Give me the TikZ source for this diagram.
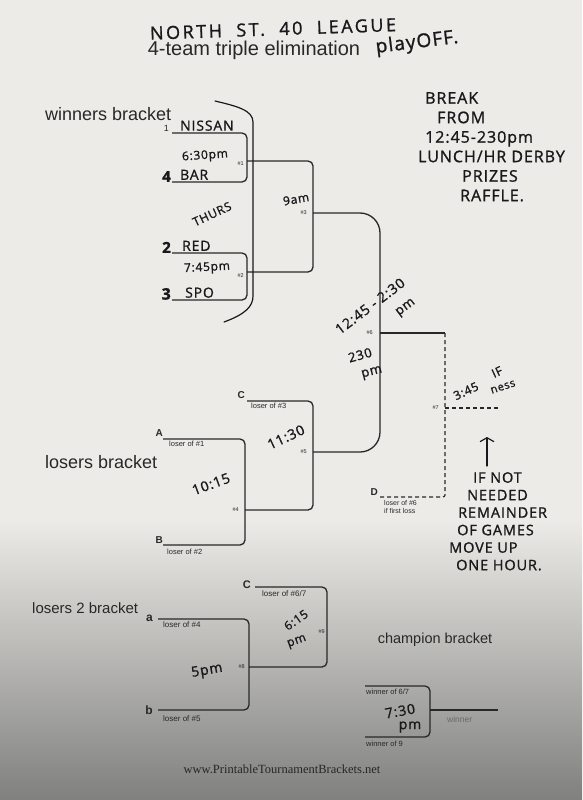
\documentclass[tikz,border=0pt]{standalone}
\usepackage{fontspec}
\setmainfont{Liberation Sans}
\newfontfamily\handfont[LetterSpace=6, FakeBold=1.2]{Open Sans}
\newfontfamily\webfont{Liberation Serif}
\usetikzlibrary{positioning, calc, arrows.meta}
\definecolor{paper}{RGB}{236,235,231}
\definecolor{papergray}{RGB}{128,128,126}
\definecolor{ink}{RGB}{40,40,40}
\definecolor{pen}{RGB}{25,25,28}

\begin{document}
\begin{tikzpicture}[x=1pt, y=-1pt,
    bline/.style={draw=ink, line width=1.3pt, rounded corners=5pt},
    dline/.style={draw=ink, line width=1.1pt, dash pattern=on 4pt off 3pt, rounded corners=2pt},
    brace/.style={draw=pen, line width=1.2pt, line cap=round},
    heading/.style={font=\fontsize{#1}{#1}\selectfont, text=ink, inner sep=0pt},
    heading/.default=18,
    seed/.style={font=\bfseries\fontsize{#1}{#1}\selectfont, text=ink, inner sep=0pt},
    seed/.default=10,
    lsmall/.style={font=\fontsize{#1}{8.5}\selectfont, text=ink, inner sep=0pt, align=left},
    lsmall/.default=7.5,
    gnum/.style={font=\fontsize{5.5}{6}\selectfont, text=ink, inner sep=0pt},
    hw/.style={font=\handfont\fontsize{#1}{#1}\selectfont, text=pen, inner sep=0pt},
    hw/.default=13,
    note/.style 2 args={font=\handfont\fontsize{#1}{#2}\selectfont, text=pen, inner sep=0pt, align=left}
]
\fill[paper] (0,0) rectangle (582,800);
\shade[top color=paper, bottom color=papergray] (0,520) rectangle (582,800);
\useasboundingbox (0,0) rectangle (582,800);

\coordinate (t1) at (172,133);
\coordinate (t4) at (172,182);
\coordinate (t2) at (172,253);
\coordinate (t3) at (172,300);
\coordinate (g1) at (247,161);
\coordinate (g2) at (247,272);
\coordinate (g3) at (313,213);
\coordinate (g6) at (380,333);
\coordinate (lc) at (247,401);
\coordinate (la) at (163,439);
\coordinate (lb) at (163,545);
\coordinate (g4) at (245,510);
\coordinate (g5) at (313,452);
\coordinate (g7) at (445,408);
\coordinate (ld) at (379,497);
\coordinate (w7) at (498,408);
\coordinate (sa) at (158,619);
\coordinate (sb) at (158,710);
\coordinate (sc) at (255,587);
\coordinate (g8) at (249,667);
\coordinate (g9) at (327,632);
\coordinate (ca) at (365,686);
\coordinate (cb) at (365,737);
\coordinate (gc) at (430,710);
\coordinate (cw) at (498,710);
\coordinate (arrowfoot) at (487,466);
\coordinate (arrowtip) at (487,437);

\draw[bline] (t1) -| (g1) |- (t4);
\draw[bline] (t2) -| (g2) |- (t3);
\draw[bline] (g1) -| (g3) |- (g2);
\draw[bline, rounded corners=20pt] (g3) -| (g6) |- (g5);
\draw[bline] (lc) -| (g5) |- (g4);
\draw[bline] (la) -| (g4) |- (lb);
\draw[bline] (g6) -- (g6 -| g7);
\draw[dline] (g6 -| g7) |- (ld);
\draw[dline] (g7) -- (w7);
\draw[bline] (sa) -| (g8) |- (sb);
\draw[bline] (sc) -| (g9) |- (g8);
\draw[bline] (ca) -| (gc) |- (cb);
\draw[bline] (gc) -- (cw);

\draw[brace] (215,101) .. controls (236,106) and (253,110) .. (253,122) -- (253,296) .. controls (253,306) and (246,314) .. (224,322);
\draw[brace, -{Straight Barb[length=4pt, width=14pt]}] (arrowfoot) -- (arrowtip);

\node[hw=18, font=\handfont\addfontfeatures{LetterSpace=14}\fontsize{18}{18}\selectfont, rotate=2] (league) at (273,29) {NORTH\ \ ST.\ \ 40\ \ LEAGUE};
\node[heading=20] (sub) at (254,50) {4-team triple elimination};
\node[hw=19, rotate=7] (playoff) at (417,43) {playOFF.};

\node[heading, anchor=west] (wlabel) at (45,114) {winners bracket};
\node[heading, anchor=west] (llabel) at (45,462) {losers bracket};
\node[heading=15, anchor=west] (l2label) at (32,608) {losers 2 bracket};
\node[heading=14.5] (clabel) at (435,640) {champion bracket};

\node[heading=9, above left=1pt and 3pt of t1] (s1) {1};
\node[hw=14, above right=2pt and 8pt of t1] (nissan) {NISSAN};
\node[hw=15, font=\handfont\bfseries\fontsize{15}{15}\selectfont, above left=0pt and 1pt of t4] (s4) {4};
\node[hw=14, above right=2pt and 8pt of t4] (bar) {BAR};
\node[hw=15, font=\handfont\bfseries\fontsize{15}{15}\selectfont, above left=0pt and 1pt of t2] (s2) {2};
\node[hw=14, above right=2pt and 10pt of t2] (red) {RED};
\node[hw=16, font=\handfont\bfseries\fontsize{16}{16}\selectfont, above left=0pt and 1pt of t3] (s3) {3};
\node[hw=14, above right=2pt and 13pt of t3] (spo) {SPO};

\node[hw=12, rotate=4] (time1) at (205,156) {6:30pm};
\node[gnum, below left=1pt and 3pt of g1] (n1) {\#1};
\node[hw=12, rotate=25] (thurs) at (212,214) {THURS};
\node[hw=12, rotate=3] (time2) at (207,268) {7:45pm};
\node[gnum, below left=1pt and 3pt of g2] (n2) {\#2};
\node[hw=12, rotate=10] (time3) at (296,199) {9am};
\node[gnum, left=6pt of g3] (n3) {\#3};

\node[hw=14, rotate=37] (time6) at (370,306) {12:45 - 2:30};
\node[hw=13, rotate=37] (pm6) at (406,308) {pm};
\node[gnum, left=7pt of g6] (n6) {\#6};
\node[hw=13, rotate=15] (time6b) at (360,355) {230};
\node[hw=13, rotate=15] (pm6b) at (372,373) {pm};

\node[gnum, left=6pt of g7] (n7) {\#7};
\node[hw=12, rotate=25] (time7) at (466,391) {3:45};
\node[hw=12, rotate=25] (if7) at (497,372) {IF};
\node[hw=11, rotate=18] (ness) at (503,387) {ness};
\node[seed, above left=1pt and 1pt of ld] (D) {D};
\node[lsmall=7, below right=3pt and 5pt of ld] (ld6) {loser of \#6\\if first loss};

\node[note={16}{19.5}, anchor=north west] (brk) at (418,92) {\hspace*{7pt}BREAK\\\hspace*{19pt}FROM\\\hspace*{7pt}12:45-230pm\\LUNCH/HR DERBY\\\hspace*{44pt}PRIZES\\\hspace*{42pt}RAFFLE.};
\node[note={14.5}{17.5}, anchor=north west] (skip) at (449,472) {\hspace*{24pt}IF NOT\\\hspace*{18pt}NEEDED\\\hspace*{9pt}REMAINDER\\\hspace*{8pt}OF GAMES\\MOVE UP\\\hspace*{7pt}ONE HOUR.};

\node[seed, above left=2pt and 2pt of lc] (C) {C};
\node[lsmall, below right=2pt and 4pt of lc] (lc3) {loser of \#3};
\node[seed, above left=2pt and 0pt of la] (A) {A};
\node[lsmall, below right=2pt and 6pt of la] (la1) {loser of \#1};
\node[seed, above left=1pt and 0pt of lb] (B) {B};
\node[lsmall, below right=4pt and 4pt of lb] (lb2) {loser of \#2};
\node[hw=14, rotate=20] (time4) at (211,484) {10:15};
\node[gnum, left=6pt of g4] (n4) {\#4};
\node[hw=14, rotate=25] (time5) at (286,437) {11:30};
\node[gnum, left=6pt of g5] (n5) {\#5};

\node[seed=12, left=5pt of sa, yshift=1pt] (a) {a};
\node[lsmall=8, below right=2pt and 5pt of sa] (sa4) {loser of \#4};
\node[seed=12, left=5pt of sb] (b) {b};
\node[lsmall=8, below right=5pt and 5pt of sb] (sb5) {loser of \#5};
\node[seed=11, left=4pt of sc, yshift=2pt] (c2) {C};
\node[lsmall=8, below right=3pt and 7pt of sc] (sc67) {loser of \#6/7};
\node[hw=14, rotate=10] (time8) at (207,671) {5pm};
\node[gnum, left=4pt of g8] (n8) {\#8};
\node[hw=12, rotate=35] (time9) at (296,620) {6:15};
\node[hw=12, rotate=20] (pm9) at (297,642) {pm};
\node[gnum, left=2pt of g9] (n9) {\#9};

\node[lsmall=7.5, below right=3pt and 1pt of ca] (ca67) {winner of 6/7};
\node[lsmall=7.5, below right=4pt and 1pt of cb] (cb9) {winner of 9};
\node[lsmall=8.5, text=ink!70, below right=6pt and 17pt of gc] (win) {winner};
\node[hw=14, rotate=10] (timec) at (400,711) {7:30};
\node[hw=14] (pmc) at (410,727) {pm};

\node[font=\webfont\fontsize{12.5}{13}\selectfont, text=black!85, inner sep=0pt] (web) at (282,769) {www.PrintableTournamentBrackets.net};
\end{tikzpicture}
\end{document}
